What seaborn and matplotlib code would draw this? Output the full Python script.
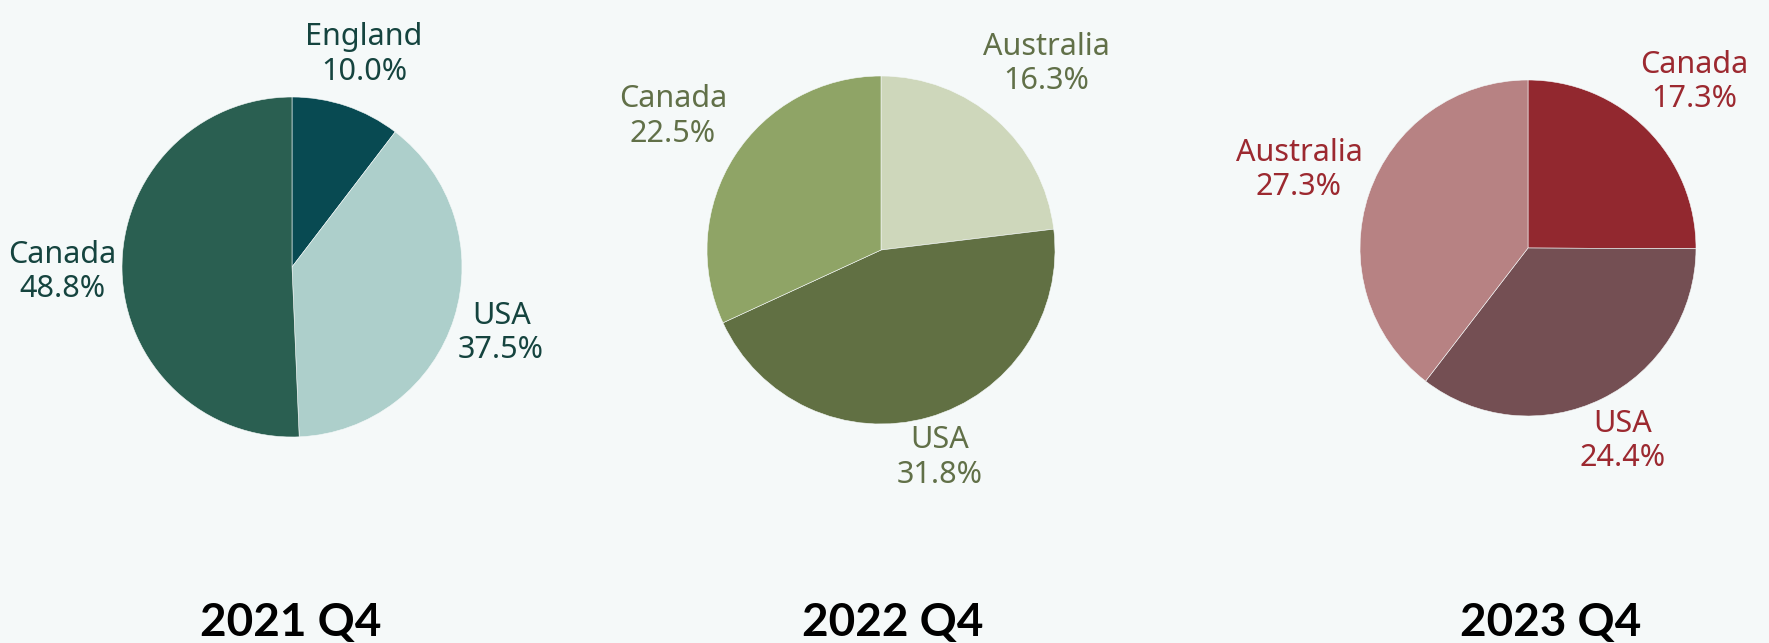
import numpy as np
import matplotlib.pyplot as plt
import seaborn as sns

# Data
quarters = ['2021 Q4', '2022 Q4', '2023 Q4']

countries_2021 = ['England', 'USA', 'Canada']
shares_2021 = [10.0, 37.5, 48.8]

countries_2022 = ['Australia', 'USA', 'Canada']
shares_2022 = [16.3, 31.8, 22.5]

countries_2023 = ['Canada', 'USA', 'Australia']
shares_2023 = [17.3, 24.4, 27.3]

colors_2021 = ['#084A52', '#ADCFCB', '#2A5F51']
colors_2022 = ['#CED7BB', '#617043', '#8FA466']
colors_2023 = ['#92282F', '#744F53', '#B78283']
text_colors = ['#15443F', '#617048', '#9C2930']

sns.set_theme(style='white')
plt.rcParams['font.family'] = ['Noto Sans', 'DejaVu Sans']

W, H = 1769, 643
bg = '#F5F9F9'
fig = plt.figure(figsize=(W / 100, H / 100), dpi=100, facecolor=bg)

# pie placement in pixels: centre x, centre y (from top), radius
layout = [(292, 267, 170), (881, 250, 174), (1528, 248, 168)]
label_dist = [[1.32, 1.29, 1.35], [1.43, 1.24, 1.42], [1.40, 1.28, 1.44]]
title_x = [291, 893, 1551]
lim = 1.7

pies = [(countries_2021, shares_2021, colors_2021),
        (countries_2022, shares_2022, colors_2022),
        (countries_2023, shares_2023, colors_2023)]

for i, (labels, values, cols) in enumerate(pies):
    cx, cy, r = layout[i]
    side = 2 * r * lim
    ax = fig.add_axes([(cx - side / 2) / W, 1 - (cy + side / 2) / H, side / W, side / H])
    wedges, _ = ax.pie(values, colors=cols, startangle=90, counterclock=False,
                       wedgeprops=dict(edgecolor=bg, linewidth=0.4))
    for w, lab, val, d in zip(wedges, labels, values, label_dist[i]):
        ang = np.deg2rad((w.theta1 + w.theta2) / 2)
        ax.text(d * np.cos(ang), d * np.sin(ang), f'{lab}\n{val:.1f}%',
                ha='center', va='center', fontsize=22, color=text_colors[i],
                linespacing=1.2)
    ax.set_xlim(-lim, lim)
    ax.set_ylim(-lim, lim)
    ax.set_aspect('equal')
    ax.axis('off')
    fig.text(title_x[i] / W, 1 - 636 / H, quarters[i], ha='center', va='baseline',
             fontsize=33, fontweight='bold', family=['Lato', 'DejaVu Sans'], color='black')

fig.savefig('out.png', dpi=100, facecolor=bg)
